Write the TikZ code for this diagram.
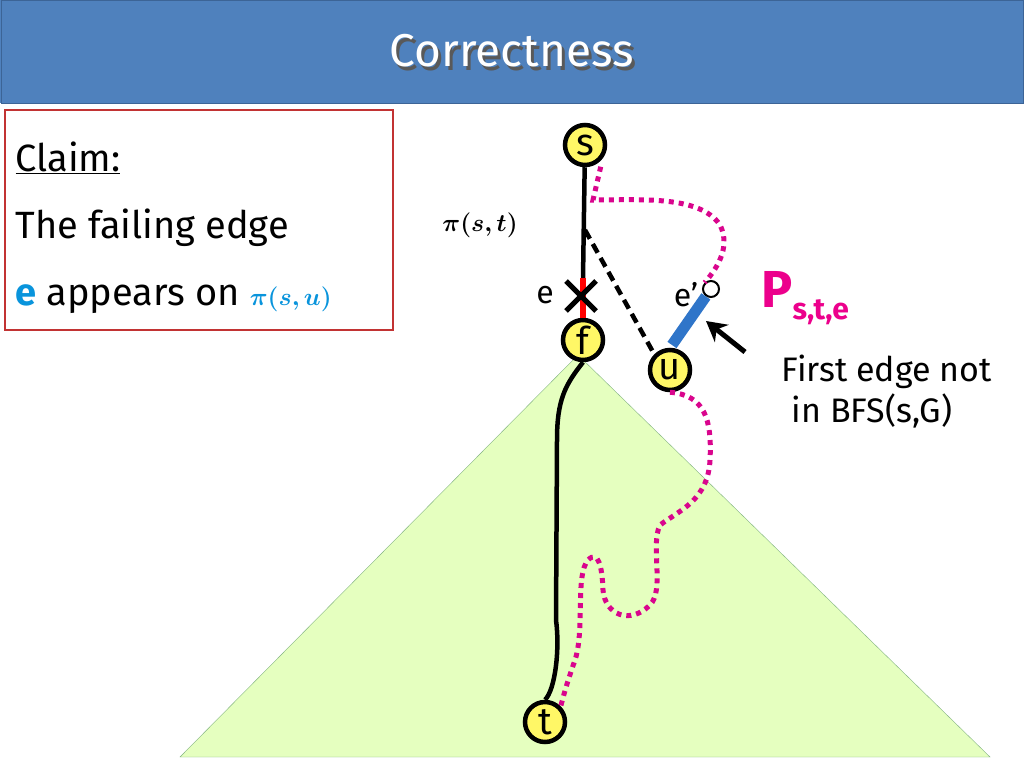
\documentclass[tikz,border=0pt]{standalone}
\usepackage{fontspec}
\setmainfont{Fira Sans}
\usepackage{bm}
\usetikzlibrary{arrows.meta}
\definecolor{titlebg}{RGB}{79,129,189}
\definecolor{titleedge}{RGB}{60,100,150}
\definecolor{eblue}{RGB}{47,117,201}
\begin{document}
\begin{tikzpicture}[x=1pt,y=-1pt,
  vert/.style={circle,draw,line width=4.5pt,fill=yellow!60,minimum size=40pt,inner sep=0pt,font=\fontsize{38}{38}\selectfont},
  mag/.style={magenta!90!blue,line width=5pt,dash pattern=on 5pt off 5pt}]
\useasboundingbox (0,0) rectangle (1024,768);
\fill[white] (0,0) rectangle (1024,768);
\fill[titlebg] (0,0) rectangle (1024,103);
\draw[titleedge,line width=1pt] (1,1) rectangle (1023,103);
\node[gray!70!black] at (515,55) {\fontsize{46}{46}\selectfont Correctness};
\node (title) [white] at (512,51) {\fontsize{46}{46}\selectfont Correctness};
\draw[red!70!black!80,line width=1.5pt,fill=white] (5,110) rectangle (393,330);
\node (claim) [anchor=west,font=\fontsize{38}{38}\selectfont] at (12,158) {\underline{Claim:}};
\node (fe) [anchor=west,font=\fontsize{38}{38}\selectfont] at (12,228) {The failing edge};
\node (ap) [anchor=west,font=\fontsize{38}{38}\selectfont] at (12,299) {\textcolor{cyan!80!blue}{\textbf{e}} appears on \textcolor{cyan!80!blue}{$\bm{\pi(s,u)}$}};
\fill[green!40!yellow!25,draw=green!40!black!50] (578,355) -- (990,757) -- (180,757) -- cycle;
\node (s) [vert] at (585,145) {s};
\node (f) [vert] at (583,340) {f};
\node (u) [vert] at (670,370) {u};
\node (t) [vert] at (545,722) {t};
\coordinate (m) at (585,230);
\draw[line width=4.5pt] (s) -- (583,278);
\draw[red,line width=6pt] (583,278) -- (f);
\draw[line width=5pt] (566,281) -- (596,311) (566,311) -- (596,281);
\draw[line width=4.5pt,dash pattern=on 10pt off 6pt] (m) -- (u.north west);
\node (ep) [circle,draw,line width=2pt,fill=white,minimum size=16pt,inner sep=0pt] at (711,289) {};
\draw[eblue,line width=11pt] (672,345) -- (ep);
\draw[line width=4.5pt] (f.south) .. controls (565,385) and (557,400) .. (557,440) -- (556,620) .. controls (560,650) and (555,690) .. (t.north);
\draw[mag] (s.south east) ++(0,6) -- (593,200) .. controls (640,200) and (700,195) .. (720,225) .. controls (730,245) and (720,265) .. (ep.north west);
\draw[mag] (u.south) .. controls (705,395) and (712,420) .. (710,460) .. controls (708,500) and (680,510) .. (660,525) .. controls (650,545) and (665,590) .. (650,605) .. controls (630,625) and (605,615) .. (603,590) .. controls (602,565) and (598,550) .. (588,560) .. controls (575,575) and (585,630) .. (575,660) .. controls (568,680) and (565,690) .. (t.north east);
\draw[-{Stealth[length=20pt,width=22pt]},line width=5pt] (745,352) -- (706,321);
\node (pst) at (480,225) {\fontsize{36}{36}\selectfont$\bm{\pi(s,t)}$};
\node (e) at (545,295) {\fontsize{32}{32}\selectfont e};
\node (el) at (686,295) {\fontsize{32}{32}\selectfont e'};
\node (P) [anchor=west,magenta] at (758,298) {\fontsize{52}{52}\selectfont\textbf{P}\raisebox{-12pt}{\fontsize{30}{30}\selectfont\textbf{s,t,e}}};
\node (fi) [anchor=west] at (778,372) {\fontsize{34}{34}\selectfont First edge not};
\node (bf) [anchor=west] at (788,411) {\fontsize{34}{34}\selectfont in BFS(s,G)};
\end{tikzpicture}
\end{document}
